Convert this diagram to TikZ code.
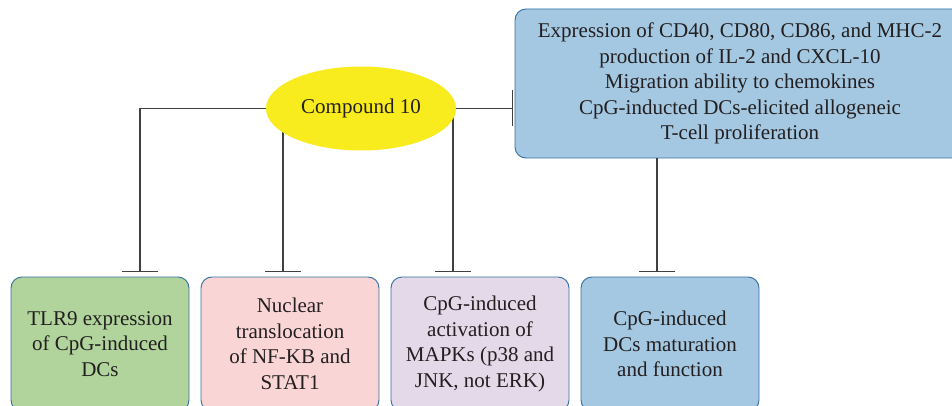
\documentclass[tikz,border=0pt]{standalone}
\usepackage{fontspec}
\setmainfont{Liberation Serif}
\usetikzlibrary{arrows.meta,shapes.geometric,backgrounds}
\definecolor{yel}{HTML}{F8EC1E}
\definecolor{bluefill}{HTML}{A4C8E2}
\definecolor{boxborder}{HTML}{336FA2}
\definecolor{greenfill}{HTML}{B0D49C}
\definecolor{pinkfill}{HTML}{F9D6D5}
\definecolor{lavfill}{HTML}{E3D9E8}
\definecolor{linec}{HTML}{404040}
\definecolor{txt}{HTML}{231F20}
\begin{document}
\begin{tikzpicture}[x=1pt,y=-1pt,
  txtfont/.style={font=\fontsize{21}{25.5}\selectfont, text=txt},
  box/.style={draw=boxborder, line width=0.9pt, rounded corners=11pt,
    minimum width=178pt, minimum height=134pt, align=center, inner sep=0pt, txtfont},
  inh/.style={draw=linec, line width=1.3pt, -{Bar[width=36pt,line width=1.3pt]}},
]
\useasboundingbox (0,0) rectangle (952,406);
\clip (0,0) rectangle (952,406);

\node[ellipse, fill=yel, minimum width=190pt, minimum height=84pt, inner sep=0pt, txtfont] (c10) at (361,108.5) {Compound 10};

\node[box, fill=bluefill, minimum width=450pt, minimum height=149pt] (top) at (740,83.5)
  {Expression of CD40, CD80, CD86, and MHC-2\\production of IL-2 and CXCL-10\\Migration ability to chemokines\\CpG-inducted DCs-elicited allogeneic\\T-cell proliferation};

\node[box, fill=greenfill] (b1) at (100,344) {TLR9 expression\\of CpG-induced\\DCs};
\node[box, fill=pinkfill] (b2) at (290,344) {Nuclear\\translocation\\of NF-KB and\\STAT1};
\node[box, fill=lavfill] (b3) at (480,344) {CpG-induced\\activation of\\MAPKs (p38 and\\JNK, not ERK)};
\node[box, fill=bluefill] (b4) at (670,344) {CpG-induced\\DCs maturation\\and function};

\coordinate (t1) at (140,272);
\coordinate (t2) at (283,272);
\coordinate (t3) at (453,272);
\coordinate (t4) at (657,272);

\begin{scope}[on background layer]
  \fill[white] (0,0) rectangle (952,406);
  \draw[inh] (c10.west) -| (t1);
  \draw[inh] (c10.center -| t2) -- (t2);
  \draw[inh] (c10.center -| t3) -- (t3);
\end{scope}
\draw[inh] (top.south -| t4) -- (t4);
\draw[inh, shorten >=1.5pt] (c10.east) -- (c10.east -| top.west);
\end{tikzpicture}
\end{document}
